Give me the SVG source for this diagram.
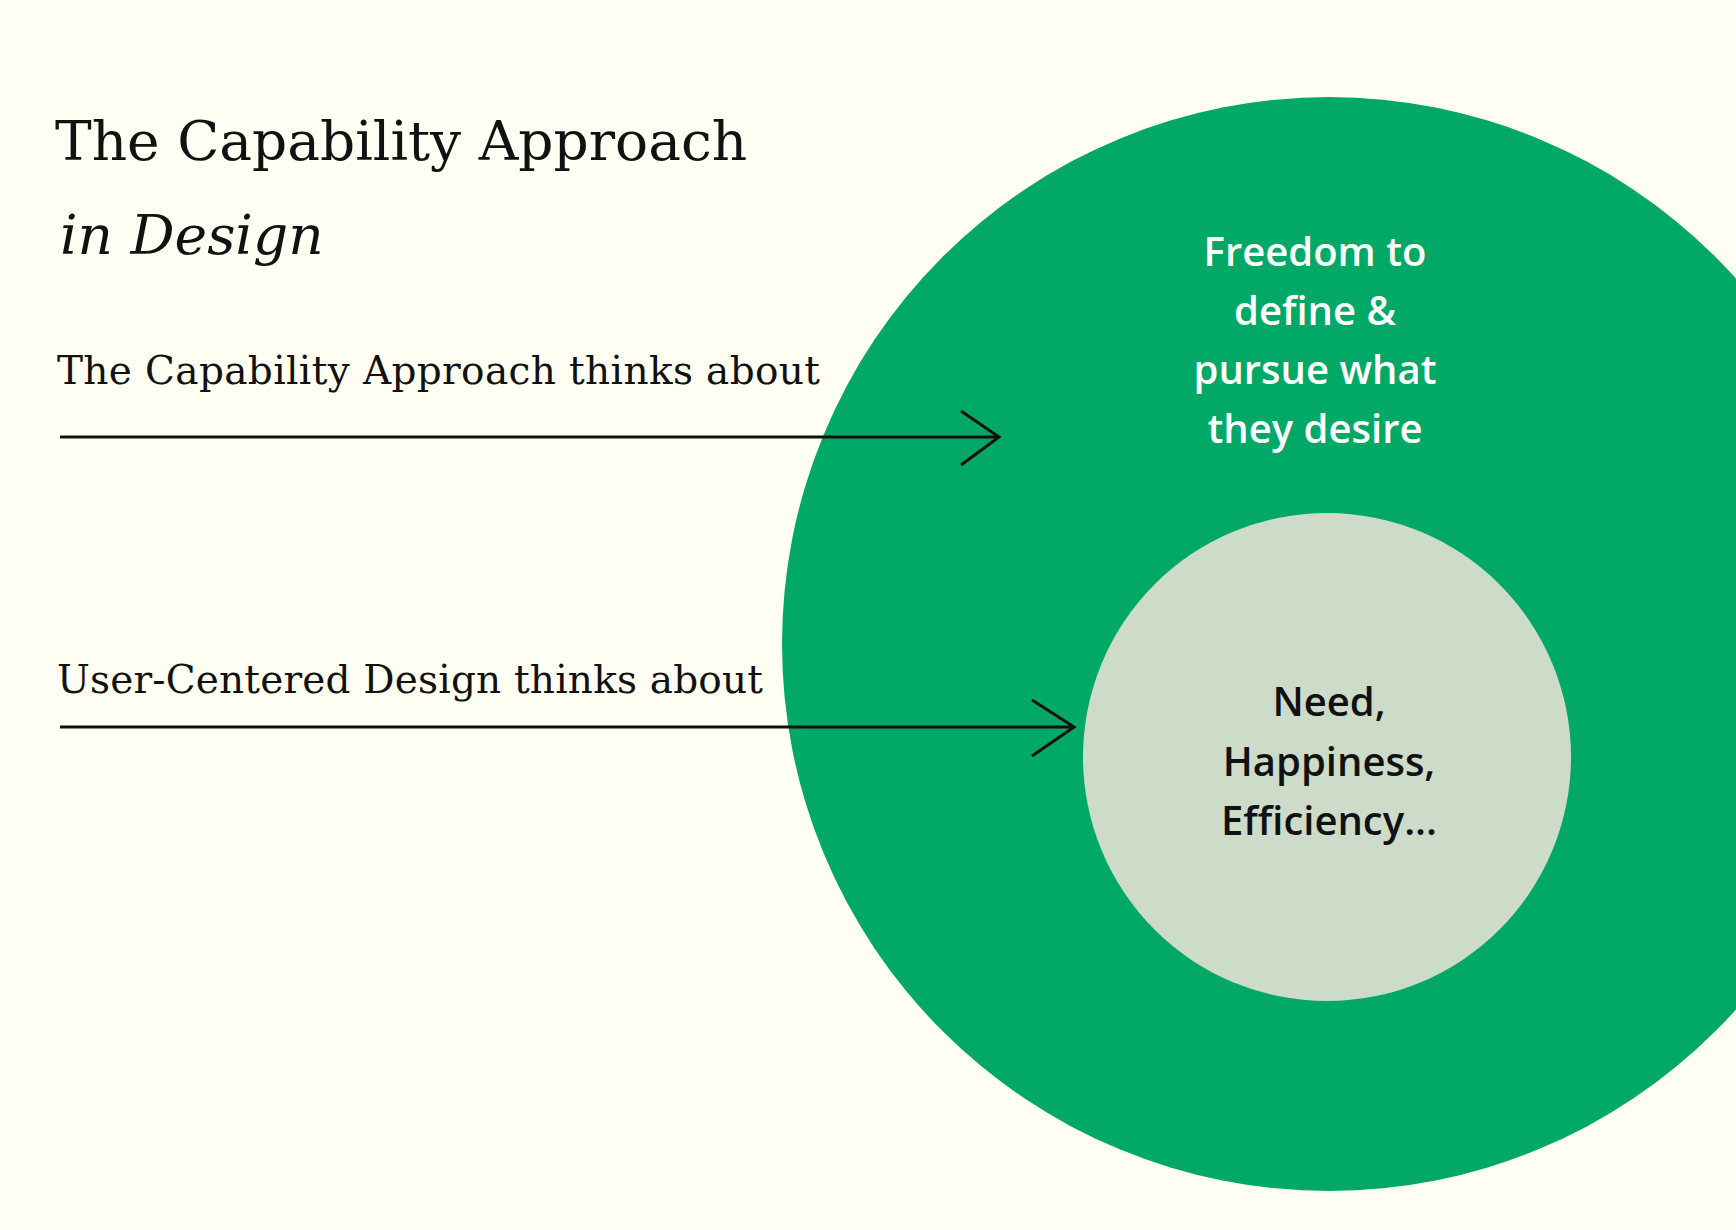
<svg xmlns="http://www.w3.org/2000/svg" width="1736" height="1230" viewBox="0 0 1736 1230">
<style>
.serif{font-family:"DejaVu Serif","Liberation Serif",serif;fill:#111}
.lbl{font-family:"Open Sans","Noto Sans",sans-serif;font-weight:600;font-size:40px;text-anchor:middle}
.arr{stroke:#111;stroke-width:3;fill:none}
</style>
<rect width="1736" height="1230" fill="#fefef2"/>
<g id="outer"><circle cx="1329" cy="644" r="547" fill="#02a966"/>
<text class="lbl" fill="#fff"><tspan x="1315" y="266">Freedom to</tspan><tspan x="1315" y="325">define &amp;</tspan><tspan x="1315" y="384">pursue what</tspan><tspan x="1315" y="443">they desire</tspan></text></g>
<g id="inner"><circle cx="1327" cy="757" r="244" fill="#cddbc9"/>
<text class="lbl" fill="#111"><tspan x="1329" y="716">Need,</tspan><tspan x="1329" y="776">Happiness,</tspan><tspan x="1329" y="835">Efficiency...</tspan></text></g>
<g id="title"><text class="serif" x="55" y="160" font-size="55">The Capability Approach</text>
<text class="serif" x="60" y="254" font-size="55" font-style="italic">in Design</text></g>
<g id="label1"><text class="serif" x="57" y="384" font-size="39" textLength="763">The Capability Approach thinks about</text></g>
<g id="label2"><text class="serif" x="57" y="693" font-size="39" textLength="706">User-Centered Design thinks about</text></g>
<g id="connectors">
<path class="arr" d="M60 437H999M961 411L999 437L961 465"/>
<path class="arr" d="M60 727H1074M1032 700L1074 727L1032 756"/>
</g>
</svg>
